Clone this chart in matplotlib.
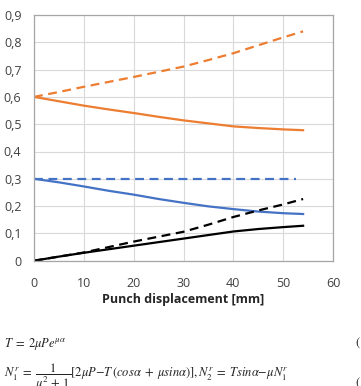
import matplotlib.pyplot as plt
from matplotlib.ticker import FuncFormatter

# punch displacement [mm]
x = [0, 5, 10, 15, 20, 25, 30, 35, 40, 45, 50, 54]

orange_dash = [0.600, 0.618, 0.637, 0.655, 0.673, 0.692, 0.711, 0.735, 0.760, 0.789, 0.818, 0.840]
orange_solid = [0.600, 0.584, 0.568, 0.554, 0.541, 0.527, 0.514, 0.503, 0.492, 0.486, 0.481, 0.478]
blue_solid = [0.300, 0.287, 0.272, 0.256, 0.242, 0.226, 0.212, 0.199, 0.189, 0.180, 0.174, 0.171]
black_dash = [0.000, 0.015, 0.030, 0.050, 0.070, 0.088, 0.106, 0.132, 0.160, 0.184, 0.206, 0.226]
black_solid = [0.000, 0.015, 0.029, 0.042, 0.055, 0.068, 0.081, 0.094, 0.107, 0.116, 0.123, 0.128]
x_const = [0, 52.5]
blue_dash = [0.3, 0.3]

plt.rcParams['font.family'] = ['Open Sans', 'DejaVu Sans']
plt.rcParams['mathtext.fontset'] = 'stix'

fig = plt.figure(figsize=(3.61, 3.86), dpi=100)
ax = fig.add_axes([34 / 361, 1 - 260.7 / 386, 299 / 361, 245.7 / 386])

orange = '#ED7D31'
blue = '#4472C4'
ax.plot(x, orange_dash, color=orange, lw=1.6, dashes=(4, 2.5))
ax.plot(x, orange_solid, color=orange, lw=1.6)
ax.plot(x_const, blue_dash, color=blue, lw=1.6, dashes=(4, 2.5))
ax.plot(x, blue_solid, color=blue, lw=1.6)
ax.plot(x, black_dash, color='black', lw=1.6, dashes=(4, 2.5))
ax.plot(x, black_solid, color='black', lw=1.6)

ax.set_xlim(0, 60)
ax.set_ylim(0, 0.9)
ax.set_xticks(range(0, 61, 10))
ax.set_yticks([i / 10 for i in range(10)])
ax.yaxis.set_major_formatter(FuncFormatter(lambda v, p: '0' if v == 0 else f'{v:.1f}'.replace('.', ',')))
ax.grid(True, color='#d9d9d9', lw=0.8)
ax.set_axisbelow(True)
ax.tick_params(length=0, labelsize=9, colors='#404040', pad=9)
ax.tick_params(axis='x', pad=12)
for s in ax.spines.values():
    s.set_color('#a6a6a6')
    s.set_linewidth(0.9)

fig.text(183.5 / 361, 1 - 300 / 386, 'Punch displacement [mm]', ha='center', va='center',
         fontsize=9, fontweight='bold', color='#262626')

fig.text(4 / 361, 1 - 344 / 386, r'$T\;=\;2\mu Pe^{\mu\alpha}$', ha='left', va='center',
         fontsize=9, color='#222222')
fig.text(4 / 361, 1 - 377 / 386,
         r'$N_1^r\;=\;\dfrac{1}{\mu^2\,+\,1}[2\mu P{-}T\,(cos\alpha\;+\;\mu sin\alpha)],N_2^r\;=\;Tsin\alpha{-}\mu N_1^r$',
         ha='left', va='center', fontsize=9, color='#222222')
fig.text(355 / 361, 1 - 344 / 386, '(', ha='left', va='center', fontsize=9,
         family='STIXGeneral', color='#222222')
fig.text(355 / 361, 1 - 384 / 386, '(', ha='left', va='center', fontsize=9,
         family='STIXGeneral', color='#222222')

fig.savefig('out.png', dpi=100)
